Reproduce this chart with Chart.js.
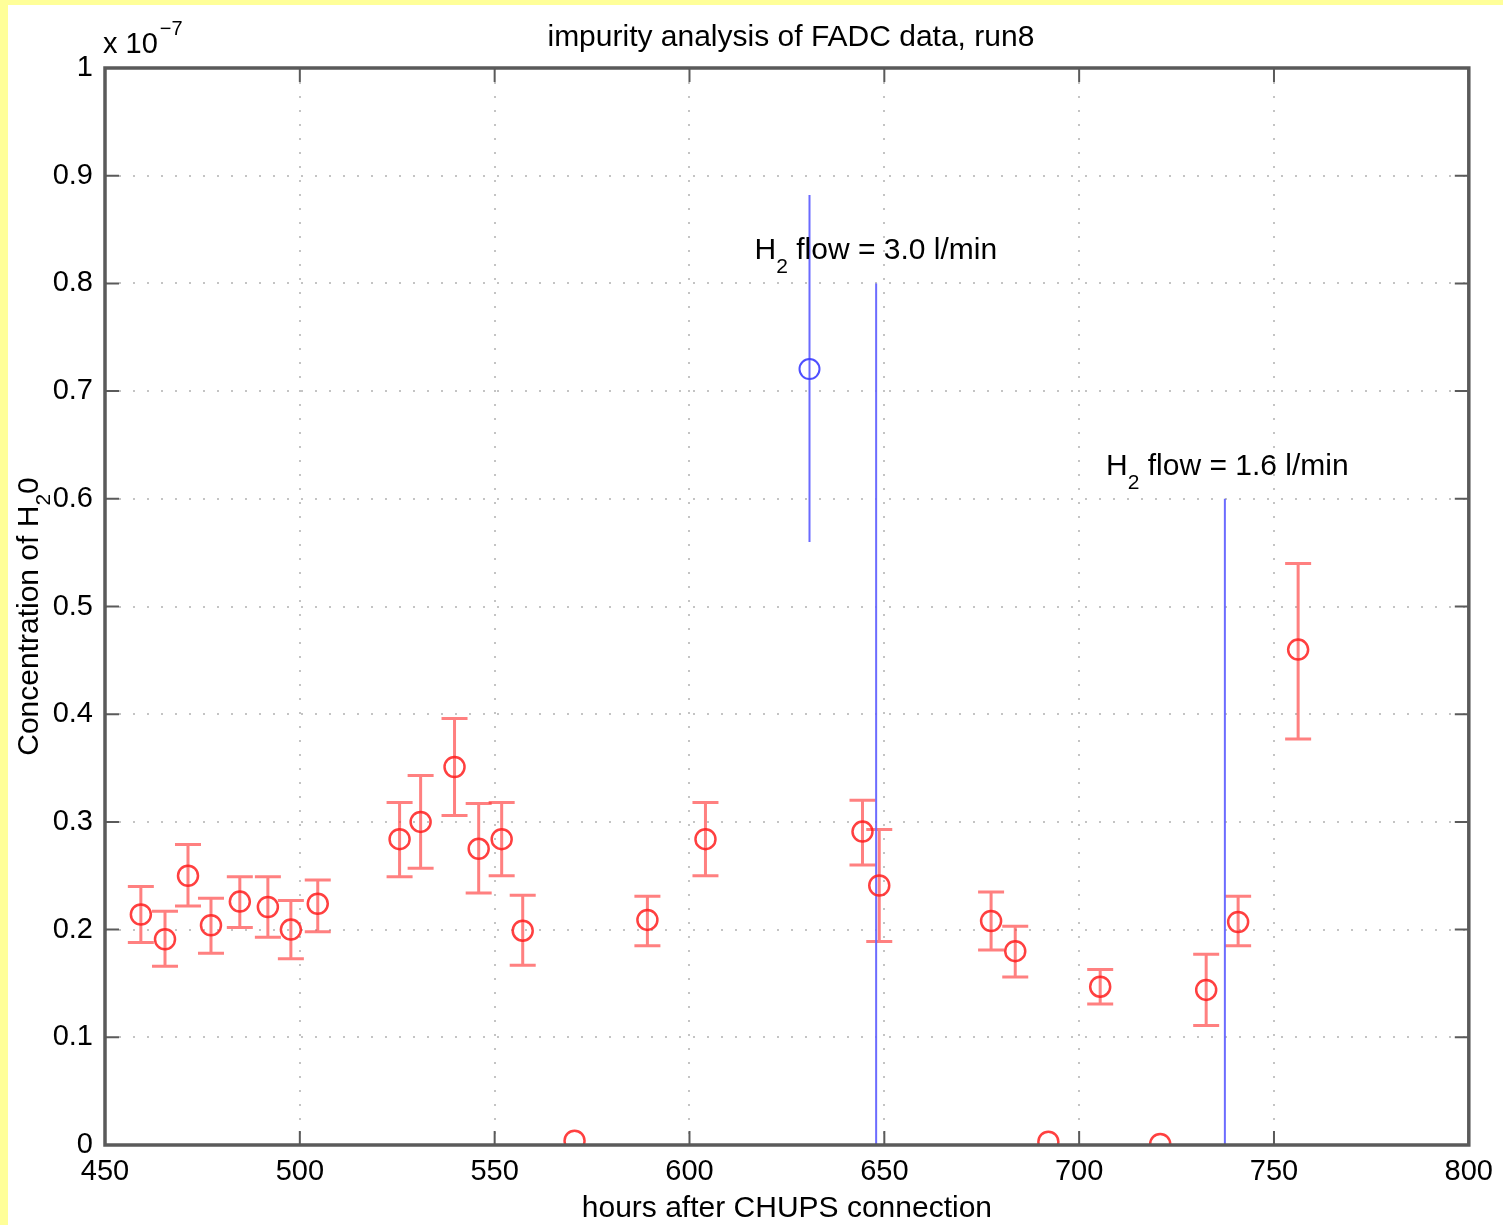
<!DOCTYPE html>
<html>
<head>
<meta charset="utf-8">
<script src="https://cdn.jsdelivr.net/npm/chart.js@4.4.0/dist/chart.umd.min.js"></script>
<style>
  body { margin: 0; background: #ffff99; }
  #wrap { position: absolute; left: 8px; top: 5px; width: 1495px; height: 1220px; background: #fff; }
</style>
</head>
<body>
<div id="wrap"><canvas id="impurityChart" width="1495" height="1220"></canvas></div>
<script>
// concentration values are in units of 1e-7
const hours = [459.2, 465.4, 471.3, 477.2, 484.6, 491.8, 497.7, 504.6, 525.6, 531.0, 539.7, 545.9, 551.8, 557.2,
  570.5, 589.2, 604.1, 644.4, 648.7, 677.4, 683.6, 692.1, 705.4, 720.8, 732.6, 740.8, 756.2];
const conc = [0.214, 0.191, 0.250, 0.204, 0.226, 0.221, 0.200, 0.224, 0.284, 0.300, 0.351, 0.275, 0.284, 0.199,
  0.004, 0.209, 0.284, 0.291, 0.241, 0.208, 0.180, 0.003, 0.147, 0.001, 0.144, 0.207, 0.460];
const concHi = [0.240, 0.217, 0.279, 0.229, 0.249, 0.249, 0.227, 0.246, 0.318, 0.343, 0.396, 0.317, 0.318, 0.232,
  0.004, 0.231, 0.318, 0.320, 0.293, 0.235, 0.203, 0.003, 0.163, 0.001, 0.177, 0.231, 0.540];
const concLo = [0.188, 0.166, 0.222, 0.178, 0.202, 0.193, 0.173, 0.198, 0.249, 0.257, 0.306, 0.234, 0.250, 0.167,
  0.004, 0.185, 0.250, 0.260, 0.189, 0.181, 0.156, 0.003, 0.131, 0.001, 0.111, 0.185, 0.377];

const outlierHour = [630.8];
const outlierConc = [0.7205];
const outlierHi = [0.882];
const outlierLo = [0.560];

const flowHours = [647.9, 737.4];
const flowTops = [0.8, 0.6];
const flowLabels = ['3.0 l/min', '1.6 l/min'];
const flowLabelPos = [[616.7, 0.823], [706.9, 0.622]];

const FONT = '"Liberation Sans", Arial, Helvetica, sans-serif';

const errorBars = {
  id: 'errorBars',
  beforeDatasetsDraw(chart) {
    const ctx = chart.ctx;
    const x = chart.scales.x, y = chart.scales.y;
    ctx.save();
    ctx.strokeStyle = 'rgba(255, 60, 60, 0.65)';
    ctx.lineWidth = 3;
    for (let i = 0; i < hours.length; i++) {
      if (concHi[i] - concLo[i] < 0.005) continue;
      const px = x.getPixelForValue(hours[i]);
      const top = y.getPixelForValue(concHi[i]);
      const bot = y.getPixelForValue(concLo[i]);
      ctx.beginPath();
      ctx.moveTo(px, top); ctx.lineTo(px, bot);
      ctx.moveTo(px - 13, top); ctx.lineTo(px + 13, top);
      ctx.moveTo(px - 13, bot); ctx.lineTo(px + 13, bot);
      ctx.stroke();
    }
    ctx.strokeStyle = 'rgba(90, 90, 255, 0.9)';
    ctx.lineWidth = 2;
    const bx = x.getPixelForValue(outlierHour[0]);
    ctx.beginPath();
    ctx.moveTo(bx, y.getPixelForValue(outlierHi[0]));
    ctx.lineTo(bx, y.getPixelForValue(outlierLo[0]));
    ctx.stroke();
    ctx.restore();
  }
};

const frame = {
  id: 'frame',
  afterDraw(chart) {
    const ctx = chart.ctx;
    const a = chart.chartArea;
    const x = chart.scales.x, y = chart.scales.y;
    ctx.save();
    ctx.strokeStyle = '#5a5a5a';
    ctx.lineWidth = 2;
    ctx.beginPath();
    for (let v = 450; v <= 800; v += 50) {
      const px = x.getPixelForValue(v);
      ctx.moveTo(px, a.bottom); ctx.lineTo(px, a.bottom - 14);
      ctx.moveTo(px, a.top); ctx.lineTo(px, a.top + 14);
    }
    for (let v = 0; v <= 10; v++) {
      const py = y.getPixelForValue(v / 10);
      ctx.moveTo(a.left, py); ctx.lineTo(a.left + 14, py);
      ctx.moveTo(a.right, py); ctx.lineTo(a.right - 14, py);
    }
    ctx.stroke();
    ctx.lineWidth = 3.5;
    ctx.strokeRect(a.left, a.top, a.right - a.left, a.bottom - a.top);

    ctx.fillStyle = '#000';
    ctx.textBaseline = 'alphabetic';
    // title
    ctx.font = '30px ' + FONT;
    ctx.textAlign = 'center';
    ctx.fillText('impurity analysis of FADC data, run8', (a.left + a.right) / 2 + 4, 41);

    // exponent
    ctx.textAlign = 'left';
    ctx.font = '29px ' + FONT;
    ctx.fillText('x 10', a.left - 2, 48);
    const w10 = ctx.measureText('x 10').width;
    ctx.font = '20px ' + FONT;
    ctx.fillText('\u22127', a.left - 2 + w10 + 2, 30);

    // flow annotations
    for (let i = 0; i < flowLabels.length; i++) {
      let px = x.getPixelForValue(flowLabelPos[i][0]);
      const py = y.getPixelForValue(flowLabelPos[i][1]);
      ctx.font = '30px ' + FONT;
      ctx.fillText('H', px, py);
      px += ctx.measureText('H').width;
      ctx.font = '21px ' + FONT;
      ctx.fillText('2', px, py + 14);
      px += ctx.measureText('2').width;
      ctx.font = '30px ' + FONT;
      ctx.fillText(' flow = ' + flowLabels[i], px, py);
    }

    // y axis label with subscript
    ctx.translate(30, (a.top + a.bottom) / 2 + 10);
    ctx.rotate(-Math.PI / 2);
    ctx.font = '30px ' + FONT;
    const p1 = 'Concentration of H';
    const w1 = ctx.measureText(p1).width;
    ctx.font = '21px ' + FONT;
    const w2 = ctx.measureText('2').width;
    ctx.font = '30px ' + FONT;
    const w3 = ctx.measureText('0').width;
    let sx = -(w1 + w2 + w3) / 2;
    ctx.fillText(p1, sx, 0);
    sx += w1;
    ctx.font = '21px ' + FONT;
    ctx.fillText('2', sx, 12);
    sx += w2;
    ctx.font = '30px ' + FONT;
    ctx.fillText('0', sx, 0);
    ctx.restore();
  }
};

const ctx = document.getElementById('impurityChart').getContext('2d');
const impurityChart = new Chart(ctx, {
  type: 'scatter',
  data: {
    datasets: [
      {
        label: 'H2O concentration',
        data: hours.map((h, i) => ({ x: h, y: conc[i] })),
        pointStyle: 'circle',
        pointRadius: 10,
        pointHoverRadius: 10,
        borderWidth: 2.5,
        borderColor: 'rgba(255, 30, 30, 0.85)',
        backgroundColor: 'rgba(0,0,0,0)'
      },
      {
        label: 'outlier',
        data: outlierHour.map((h, i) => ({ x: h, y: outlierConc[i] })),
        pointRadius: 10,
        pointHoverRadius: 10,
        borderWidth: 2,
        borderColor: 'rgba(60, 60, 255, 0.9)',
        backgroundColor: 'rgba(0,0,0,0)'
      },
      ...flowHours.map((h, i) => ({
        label: 'flow ' + flowLabels[i],
        data: [{ x: h, y: 0 }, { x: h, y: flowTops[i] }],
        showLine: true,
        pointRadius: 0,
        borderWidth: 2,
        borderColor: 'rgba(100, 100, 255, 0.95)'
      }))
    ]
  },
  options: {
    responsive: false,
    animation: false,
    layout: { padding: { top: 63, right: 26, left: 0, bottom: 0 } },
    plugins: {
      legend: { display: false },
      tooltip: { enabled: false },
      title: { display: false }
    },
    scales: {
      x: {
        type: 'linear',
        min: 450,
        max: 800,
        afterFit(scale) { scale.height = 80; },
        ticks: { stepSize: 50, padding: 10, color: '#000', font: { family: FONT, size: 29 }, maxRotation: 0 },
        grid: { color: '#c4c4c4', lineWidth: 2, drawTicks: false },
        border: { display: false, dash: [2, 12] },
        title: {
          display: true,
          text: 'hours after CHUPS connection',
          color: '#000',
          font: { family: FONT, size: 30, lineHeight: 1.1 },
          padding: { top: 0, bottom: 0 }
        }
      },
      y: {
        min: 0,
        max: 1,
        afterFit(scale) { scale.width = 97; },
        ticks: {
          stepSize: 0.1,
          padding: 12,
          color: '#000',
          font: { family: FONT, size: 29 },
          callback: (v) => String(Math.round(v * 10) / 10)
        },
        grid: { color: '#c4c4c4', lineWidth: 2, drawTicks: false },
        border: { display: false, dash: [2, 12] }
      }
    }
  },
  plugins: [errorBars, frame]
});
</script>
</body>
</html>
